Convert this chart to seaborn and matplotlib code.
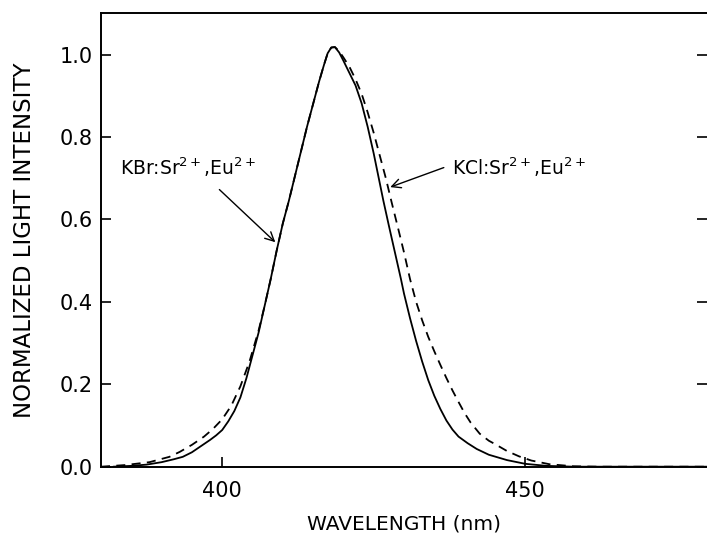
import matplotlib
matplotlib.use("Agg")
import matplotlib.pyplot as plt
import seaborn as sns
import pandas as pd

# KBr:Sr2+,Eu2+ (solid)
kbr_wavelength = [382, 385, 387.5, 390, 392, 393.5, 395, 396.5, 398, 399, 400, 401, 402, 403,
                  404, 405, 406, 407, 408, 409, 410, 411, 412, 413, 414, 415, 416, 416.8,
                  417.4, 418, 418.6, 419.3, 420, 421, 422, 423, 424, 425, 426.6, 427.5, 428.5,
                  429.5, 430, 431, 432, 433, 434, 435, 436, 437, 438, 439, 440.5, 442, 444,
                  447, 450, 453.5, 458, 465, 480]
kbr_intensity = [0.0, 0.002, 0.005, 0.011, 0.018, 0.024, 0.035, 0.05, 0.065, 0.076, 0.089, 0.11,
                 0.135, 0.168, 0.215, 0.27, 0.325, 0.39, 0.455, 0.525, 0.59, 0.645, 0.705, 0.765,
                 0.825, 0.88, 0.935, 0.975, 1.003, 1.017, 1.018, 1.005, 0.985, 0.955, 0.925,
                 0.882, 0.825, 0.76, 0.645, 0.585, 0.52, 0.455, 0.42, 0.36, 0.305, 0.255, 0.21,
                 0.172, 0.14, 0.112, 0.09, 0.073, 0.057, 0.043, 0.029, 0.016, 0.007, 0.002, 0.0,
                 0.0, 0.0]

# KCl:Sr2+,Eu2+ (dashed)
kcl_wavelength = [380, 384, 388, 391.3, 393, 395, 397, 398.5, 400, 401.5, 403, 404.5, 406, 407,
                  408, 409, 410, 411, 412, 413, 414, 415, 416, 416.8, 417.4, 418, 418.6, 419.3,
                  420, 421, 422, 423, 424, 425, 426, 427, 427.9, 429, 430, 431, 432, 433, 434,
                  435, 436, 437, 438, 439, 440, 441, 442.5, 444, 445, 447, 449, 451, 454, 458,
                  462, 470, 480]
kcl_intensity = [0.0, 0.004, 0.011, 0.024, 0.036, 0.053, 0.073, 0.092, 0.115, 0.148, 0.195, 0.255,
                 0.33, 0.39, 0.455, 0.525, 0.59, 0.645, 0.705, 0.765, 0.825, 0.88, 0.935, 0.975,
                 1.003, 1.017, 1.018, 1.008, 0.993, 0.97, 0.94, 0.905, 0.86, 0.81, 0.755, 0.7,
                 0.645, 0.58, 0.52, 0.455, 0.4, 0.355, 0.315, 0.28, 0.247, 0.215, 0.185, 0.157,
                 0.13, 0.107, 0.08, 0.063, 0.055, 0.038, 0.025, 0.015, 0.006, 0.001, 0.0, 0.0, 0.0]

series_names = ["KBr", "KCl"]
kbr_label = "KBr:Sr$^{2+}$,Eu$^{2+}$"
kcl_label = "KCl:Sr$^{2+}$,Eu$^{2+}$"
x_ticks = [400, 450]
y_ticks = [0.0, 0.2, 0.4, 0.6, 0.8, 1.0]

df = pd.concat([
    pd.DataFrame({"wavelength": kbr_wavelength, "intensity": kbr_intensity, "series": series_names[0]}),
    pd.DataFrame({"wavelength": kcl_wavelength, "intensity": kcl_intensity, "series": series_names[1]}),
], ignore_index=True)

sns.set_theme(style="white")
plt.rcParams["font.family"] = ["DejaVu Sans"]
plt.rcParams["mathtext.fontset"] = "dejavusans"

fig = plt.figure(figsize=(7.07, 5.40), dpi=100)
ax = fig.add_axes([101 / 707, 1 - 466.7 / 540, 1 - 101 / 707, (466.7 - 13.3) / 540])

sns.lineplot(data=df, x="wavelength", y="intensity", hue="series", style="series",
             palette={"KBr": "black", "KCl": "black"},
             dashes={"KBr": "", "KCl": (5, 3.5)},
             sort=False, estimator=None, legend=False, linewidth=1.3, ax=ax)

ax.set_xlim(380, 480)
ax.set_ylim(0, 1.1)
ax.set_xticks(x_ticks)
ax.set_xticklabels([str(t) for t in x_ticks])
ax.set_yticks(y_ticks)
ax.set_yticklabels([f"{t:.1f}" for t in y_ticks])

for s in ["left", "bottom", "top"]:
    ax.spines[s].set_visible(True)
    ax.spines[s].set_color("black")
    ax.spines[s].set_linewidth(1.4)
ax.spines["right"].set_visible(False)

ax.tick_params(axis="both", which="major", direction="in", length=7, width=1.2,
               colors="black", labelsize=15)
ax.tick_params(axis="y", right=True, left=True, pad=6)
ax.tick_params(axis="x", bottom=True, top=False, pad=10)

ax.set_xlabel("WAVELENGTH (nm)", fontsize=14.5, labelpad=10, color="black")
ax.set_ylabel("NORMALIZED LIGHT INTENSITY", fontsize=16.5, labelpad=17, color="black")

ax.text(383.1, 0.727, kbr_label, fontsize=13.5, va="center", ha="left", color="black")
ax.text(438.0, 0.727, kcl_label, fontsize=13.5, va="center", ha="left", color="black")

ax.annotate("", xy=(409.1, 0.54), xytext=(399.2, 0.677),
            arrowprops=dict(arrowstyle="->", color="black", lw=1.0, mutation_scale=16))
ax.annotate("", xy=(427.3, 0.676), xytext=(437.0, 0.728),
            arrowprops=dict(arrowstyle="->", color="black", lw=1.0, mutation_scale=16))

ax.grid(False)
fig.savefig("out.png", dpi=100)
